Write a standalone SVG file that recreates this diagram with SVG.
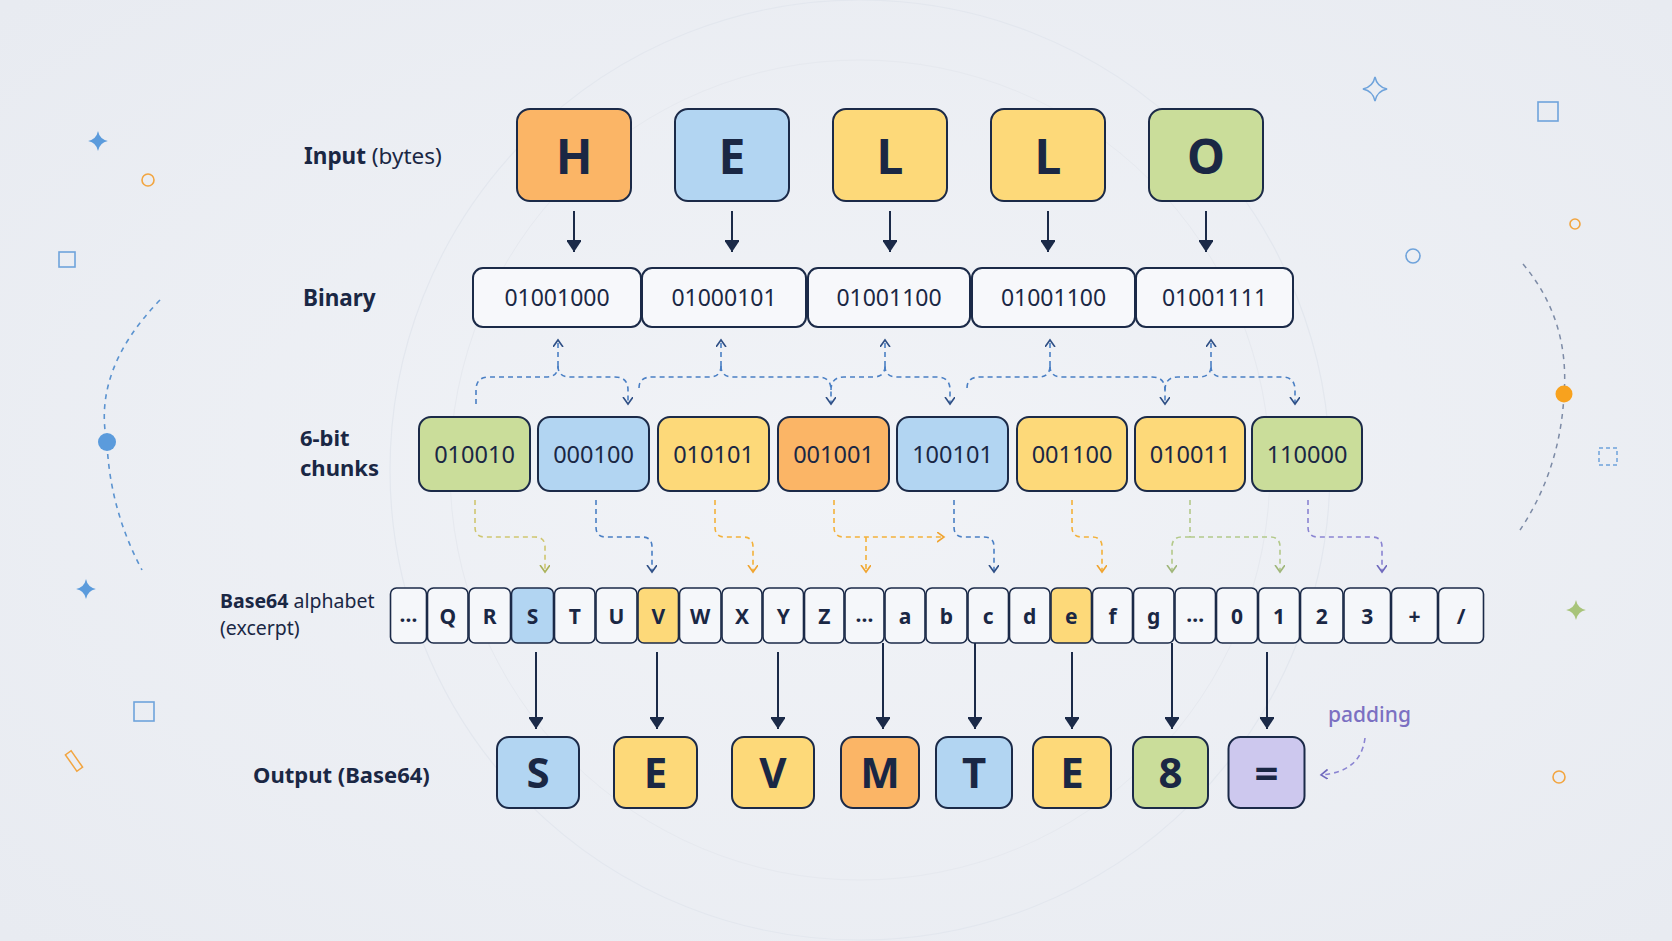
<svg xmlns="http://www.w3.org/2000/svg" width="1672" height="941" viewBox="0 0 1672 941">
<defs>
<radialGradient id="bg" cx="50%" cy="50%" r="70%">
<stop offset="0" stop-color="#f1f3f7"/>
<stop offset="1" stop-color="#e8ebf1"/>
</radialGradient>
<marker id="solid" markerUnits="userSpaceOnUse" markerWidth="20" markerHeight="14" refX="12" refY="7" orient="auto">
<path d="M0,-1 L12,7 L0,15 Z" fill="#1b2a48"/>
</marker>
<marker id="vBlue" markerUnits="userSpaceOnUse" markerWidth="12" markerHeight="12" refX="7" refY="5" orient="auto">
<path d="M0,0 L7,5 L0,10" fill="none" stroke="#2f4f85" stroke-width="1.6"/>
</marker>
<marker id="vOlive" markerUnits="userSpaceOnUse" markerWidth="12" markerHeight="12" refX="7" refY="5" orient="auto">
<path d="M0,0 L7,5 L0,10" fill="none" stroke="#aab25a" stroke-width="1.6"/>
</marker>
<marker id="vOrange" markerUnits="userSpaceOnUse" markerWidth="12" markerHeight="12" refX="7" refY="5" orient="auto">
<path d="M0,0 L7,5 L0,10" fill="none" stroke="#f0a430" stroke-width="1.6"/>
</marker>
<marker id="vGreen" markerUnits="userSpaceOnUse" markerWidth="12" markerHeight="12" refX="7" refY="5" orient="auto">
<path d="M0,0 L7,5 L0,10" fill="none" stroke="#9fb67a" stroke-width="1.6"/>
</marker>
<marker id="vPurple" markerUnits="userSpaceOnUse" markerWidth="12" markerHeight="12" refX="7" refY="5" orient="auto">
<path d="M0,0 L7,5 L0,10" fill="none" stroke="#6f69bd" stroke-width="1.6"/>
</marker>
<path id="star" d="M0,-11 Q1.8,-1.8 11,0 Q1.8,1.8 0,11 Q-1.8,1.8 -11,0 Q-1.8,-1.8 0,-11 Z"/>
</defs>
<style>
text{font-family:"Noto Sans","Liberation Sans",sans-serif;fill:#1a2744}
.box{stroke:#1b2a48;stroke-width:2}
.or{fill:#fbb566}.bl{fill:#b2d5f2}.ye{fill:#fdd979}.gr{fill:#cadd9a}.pu{fill:#cdc8ee}.wh{fill:#f7f8fb}
.big{font-size:48px;font-weight:bold;text-anchor:middle}
.bin{font-size:23px;text-anchor:middle}
.chk{font-size:23.5px;text-anchor:middle}
.cell{stroke:#1b2a48;stroke-width:1.6;fill:#f5f7fa}
.ct{font-size:21px;font-weight:bold;text-anchor:middle}
.out{font-size:42px;font-weight:bold;text-anchor:middle}
.lbl{font-size:22.5px}
.b{font-weight:bold}
.solid{stroke:#1b2a48;stroke-width:2;fill:none;marker-end:url(#solid)}
.dash{fill:none;stroke-width:1.6;stroke-dasharray:5 4}
.dBlue{stroke:#4a7fc4}
.dOlive{stroke:#cfc670}
.dOrange{stroke:#f3b13a}
.dGreen{stroke:#b3c98a}
.dPurple{stroke:#8a84d2}
</style>
<rect x="0" y="0" width="1672" height="941" fill="url(#bg)"/>
<g id="background" fill="none">
<circle cx="860" cy="470" r="470" stroke="#e3e7ee" stroke-width="1.2"/>
<circle cx="860" cy="470" r="410" stroke="#e6e9ef" stroke-width="1"/>
<use href="#star" transform="translate(98,141) scale(0.9)" fill="#5b9bdc"/>
<circle cx="148" cy="180" r="6" stroke="#f2a540" stroke-width="1.6"/>
<rect x="59" y="252" width="16" height="15" stroke="#6fa3db" stroke-width="1.6"/>
<path d="M160,300 Q92,370 107,443 Q110,510 142,570" stroke="#5b93d0" stroke-width="1.6" stroke-dasharray="5 5"/>
<circle cx="107" cy="442" r="9" fill="#5b9bdc"/>
<use href="#star" transform="translate(86,589) scale(0.9)" fill="#5b9bdc"/>
<rect x="134" y="702" width="20" height="19" stroke="#6fa3db" stroke-width="1.6"/>
<rect x="-10" y="-3.5" width="20" height="7" transform="translate(74,761) rotate(55)" stroke="#f2a540" stroke-width="1.5"/>
<use href="#star" transform="translate(1375,89) scale(1.1)" stroke="#6fa3db" stroke-width="1.4"/>
<rect x="1538" y="102" width="20" height="19" stroke="#6fa3db" stroke-width="1.6"/>
<circle cx="1575" cy="224" r="5" stroke="#f2a540" stroke-width="1.6"/>
<circle cx="1413" cy="256" r="7" stroke="#6fa3db" stroke-width="1.6"/>
<path d="M1523,264 Q1570,320 1564,395 Q1560,470 1520,530" stroke="#7d8ba6" stroke-width="1.5" stroke-dasharray="5 5"/>
<circle cx="1564" cy="394" r="8.5" fill="#f8a21e"/>
<rect x="1599" y="448" width="18" height="17" stroke="#6fa3db" stroke-width="1.5" stroke-dasharray="4 3"/>
<use href="#star" transform="translate(1576,610) scale(0.9)" fill="#a8c47a"/>
<circle cx="1559" cy="777" r="6" stroke="#f2a540" stroke-width="1.6"/>
</g>
<g id="labels">
<text class="lbl" x="304" y="164"><tspan class="b">Input</tspan> (bytes)</text>
<text class="lbl b" x="303" y="306" font-size="22">Binary</text>
<text class="b" x="300" font-size="22"><tspan x="300" y="446">6-bit</tspan><tspan x="300" y="476">chunks</tspan></text>
<text x="220" font-size="19.5"><tspan x="220" y="608"><tspan class="b">Base64</tspan> alphabet</tspan><tspan x="220" y="635">(excerpt)</tspan></text>
<text class="b" x="253" y="783" font-size="22">Output (Base64)</text>
<text x="1328" y="722" font-size="21" font-weight="500" style="fill:#7b70c2">padding</text>
</g>
<g id="input">
<g id="in-H"><rect class="box or" x="517" y="109" width="114" height="92" rx="13"/><text class="big" x="574" y="174">H</text></g>
<g id="in-E"><rect class="box bl" x="675" y="109" width="114" height="92" rx="13"/><text class="big" x="732" y="174">E</text></g>
<g id="in-L1"><rect class="box ye" x="833" y="109" width="114" height="92" rx="13"/><text class="big" x="890" y="174">L</text></g>
<g id="in-L2"><rect class="box ye" x="991" y="109" width="114" height="92" rx="13"/><text class="big" x="1048" y="174">L</text></g>
<g id="in-O"><rect class="box gr" x="1149" y="109" width="114" height="92" rx="13"/><text class="big" x="1206" y="174">O</text></g>
</g>
<g id="binary">
<g id="bin-1"><rect class="box wh" x="473" y="268" width="168" height="59" rx="10"/><text class="bin" x="557" y="306">01001000</text></g>
<g id="bin-2"><rect class="box wh" x="642" y="268" width="164" height="59" rx="10"/><text class="bin" x="724" y="306">01000101</text></g>
<g id="bin-3"><rect class="box wh" x="808" y="268" width="162" height="59" rx="10"/><text class="bin" x="889" y="306">01001100</text></g>
<g id="bin-4"><rect class="box wh" x="972" y="268" width="163" height="59" rx="10"/><text class="bin" x="1053.5" y="306">01001100</text></g>
<g id="bin-5"><rect class="box wh" x="1136" y="268" width="157" height="59" rx="10"/><text class="bin" x="1214.5" y="306">01001111</text></g>
</g>
<g id="chunks">
<g id="ch-1"><rect class="box gr" x="419" y="417" width="111" height="74" rx="12"/><text class="chk" x="474.5" y="462.5">010010</text></g>
<g id="ch-2"><rect class="box bl" x="538" y="417" width="111" height="74" rx="12"/><text class="chk" x="593.5" y="462.5">000100</text></g>
<g id="ch-3"><rect class="box ye" x="658" y="417" width="111" height="74" rx="12"/><text class="chk" x="713.5" y="462.5">010101</text></g>
<g id="ch-4"><rect class="box or" x="778" y="417" width="111" height="74" rx="12"/><text class="chk" x="833.5" y="462.5">001001</text></g>
<g id="ch-5"><rect class="box bl" x="897" y="417" width="111" height="74" rx="12"/><text class="chk" x="952.5" y="462.5">100101</text></g>
<g id="ch-6"><rect class="box ye" x="1017" y="417" width="110" height="74" rx="12"/><text class="chk" x="1072" y="462.5">001100</text></g>
<g id="ch-7"><rect class="box ye" x="1135" y="417" width="110" height="74" rx="12"/><text class="chk" x="1190" y="462.5">010011</text></g>
<g id="ch-8"><rect class="box gr" x="1252" y="417" width="110" height="74" rx="12"/><text class="chk" x="1307" y="462.5">110000</text></g>
</g>
<g id="alphabet">
<rect class="cell" x="390.5" y="588" width="36" height="55" rx="6"/><text class="ct" x="408.5" y="622" font-size="16">…</text>
<rect class="cell" x="427.5" y="588" width="40.5" height="55" rx="6"/><text class="ct" x="447.75" y="624">Q</text>
<rect class="cell" x="469" y="588" width="41.5" height="55" rx="6"/><text class="ct" x="489.75" y="624">R</text>
<rect class="cell" x="511.5" y="588" width="42" height="55" rx="6" style="fill:#b2d5f2"/><text class="ct" x="532.5" y="624">S</text>
<rect class="cell" x="554.5" y="588" width="40.5" height="55" rx="6"/><text class="ct" x="574.75" y="624">T</text>
<rect class="cell" x="596" y="588" width="41" height="55" rx="6"/><text class="ct" x="616.5" y="624">U</text>
<rect class="cell" x="638" y="588" width="40.5" height="55" rx="6" style="fill:#fdd979"/><text class="ct" x="658.25" y="624">V</text>
<rect class="cell" x="679.5" y="588" width="41.5" height="55" rx="6"/><text class="ct" x="700.25" y="624">W</text>
<rect class="cell" x="722" y="588" width="40" height="55" rx="6"/><text class="ct" x="742" y="624">X</text>
<rect class="cell" x="763" y="588" width="40.5" height="55" rx="6"/><text class="ct" x="783.25" y="624">Y</text>
<rect class="cell" x="804.5" y="588" width="39.5" height="55" rx="6"/><text class="ct" x="824.25" y="624">Z</text>
<rect class="cell" x="845" y="588" width="39" height="55" rx="6"/><text class="ct" x="864.5" y="622" font-size="16">…</text>
<rect class="cell" x="885" y="588" width="40" height="55" rx="6"/><text class="ct" x="905" y="624">a</text>
<rect class="cell" x="926" y="588" width="41" height="55" rx="6"/><text class="ct" x="946.5" y="624">b</text>
<rect class="cell" x="968" y="588" width="40.5" height="55" rx="6"/><text class="ct" x="988.25" y="624">c</text>
<rect class="cell" x="1009.5" y="588" width="40.5" height="55" rx="6"/><text class="ct" x="1029.75" y="624">d</text>
<rect class="cell" x="1051" y="588" width="40.5" height="55" rx="6" style="fill:#fdd979"/><text class="ct" x="1071.25" y="624">e</text>
<rect class="cell" x="1092.5" y="588" width="40" height="55" rx="6"/><text class="ct" x="1112.5" y="624">f</text>
<rect class="cell" x="1133.5" y="588" width="40.5" height="55" rx="6"/><text class="ct" x="1153.75" y="624">g</text>
<rect class="cell" x="1175" y="588" width="40.5" height="55" rx="6"/><text class="ct" x="1195.25" y="622" font-size="16">…</text>
<rect class="cell" x="1216.5" y="588" width="41" height="55" rx="6"/><text class="ct" x="1237" y="624">0</text>
<rect class="cell" x="1258.5" y="588" width="41" height="55" rx="6"/><text class="ct" x="1279" y="624">1</text>
<rect class="cell" x="1300.5" y="588" width="42.5" height="55" rx="6"/><text class="ct" x="1321.75" y="624">2</text>
<rect class="cell" x="1344" y="588" width="46.5" height="55" rx="6"/><text class="ct" x="1367.25" y="624">3</text>
<rect class="cell" x="1391.5" y="588" width="46" height="55" rx="6"/><text class="ct" x="1414.5" y="624">+</text>
<rect class="cell" x="1438.5" y="588" width="45" height="55" rx="6"/><text class="ct" x="1461" y="624">/</text>
</g>
<g id="output">
<g id="out-S"><rect class="box bl" x="497" y="737" width="82" height="71" rx="12"/><text class="out" x="538" y="788">S</text></g>
<g id="out-E1"><rect class="box ye" x="614" y="737" width="83" height="71" rx="12"/><text class="out" x="655.5" y="788">E</text></g>
<g id="out-V"><rect class="box ye" x="732" y="737" width="82" height="71" rx="12"/><text class="out" x="773" y="788">V</text></g>
<g id="out-M"><rect class="box or" x="841" y="737" width="78" height="71" rx="12"/><text class="out" x="880" y="788">M</text></g>
<g id="out-T"><rect class="box bl" x="936" y="737" width="76" height="71" rx="12"/><text class="out" x="974" y="788">T</text></g>
<g id="out-E2"><rect class="box ye" x="1033" y="737" width="78" height="71" rx="12"/><text class="out" x="1072" y="788">E</text></g>
<g id="out-8"><rect class="box gr" x="1133" y="737" width="75" height="71" rx="12"/><text class="out" x="1170.5" y="788">8</text></g>
<g id="out-pad"><rect class="box pu" x="1228.5" y="737" width="76" height="71" rx="12"/><text class="out" x="1266.5" y="788">=</text></g>
</g>
<g id="connectors">
<path class="solid" d="M574,211 V252"/>
<path class="solid" d="M732,211 V252"/>
<path class="solid" d="M890,211 V252"/>
<path class="solid" d="M1048,211 V252"/>
<path class="solid" d="M1206,211 V252"/>
<g class="dash dBlue">
<path d="M558,366 V340" marker-end="url(#vBlue)"/>
<path d="M476,404 V390 Q476,377 489,377 H546 Q558,377 558,366"/>
<path d="M558,366 Q558,377 570,377 H615 Q628,377 628,390 V404" marker-end="url(#vBlue)"/>
<path d="M721,366 V340" marker-end="url(#vBlue)"/>
<path d="M639,388 Q639,377 652,377 H709 Q721,377 721,366"/>
<path d="M721,366 Q721,377 733,377 H818 Q831,377 831,390 V404" marker-end="url(#vBlue)"/>
<path d="M885,366 V340" marker-end="url(#vBlue)"/>
<path d="M831,390 Q831,377 844,377 H873 Q885,377 885,366"/>
<path d="M885,366 Q885,377 897,377 H937 Q950,377 950,390 V404" marker-end="url(#vBlue)"/>
<path d="M1050,366 V340" marker-end="url(#vBlue)"/>
<path d="M967,388 Q967,377 980,377 H1038 Q1050,377 1050,366"/>
<path d="M1050,366 Q1050,377 1062,377 H1152 Q1165,377 1165,390 V404" marker-end="url(#vBlue)"/>
<path d="M1211,366 V340" marker-end="url(#vBlue)"/>
<path d="M1165,390 Q1165,377 1178,377 H1199 Q1211,377 1211,366"/>
<path d="M1211,366 Q1211,377 1223,377 H1282 Q1295,377 1295,390 V404" marker-end="url(#vBlue)"/>
</g>
<path class="dash dOlive" d="M475,500 V527 Q475,537 485,537 H535 Q545,537 545,547 V572" marker-end="url(#vOlive)"/>
<path class="dash dBlue" d="M596,500 V527 Q596,537 606,537 H642 Q652,537 652,547 V572" marker-end="url(#vBlue)"/>
<path class="dash dOrange" d="M715,500 V527 Q715,537 725,537 H743 Q753,537 753,547 V572" marker-end="url(#vOrange)"/>
<path class="dash dOrange" d="M834,500 V527 Q834,537 844,537 H944" marker-end="url(#vOrange)"/>
<path class="dash dOrange" d="M866,537 V572" marker-end="url(#vOrange)"/>
<path class="dash dBlue" d="M954,500 V527 Q954,537 964,537 H984 Q994,537 994,547 V572" marker-end="url(#vBlue)"/>
<path class="dash dOrange" d="M1072,500 V527 Q1072,537 1082,537 H1092 Q1102,537 1102,547 V572" marker-end="url(#vOrange)"/>
<path class="dash dGreen" d="M1190,500 V537"/>
<path class="dash dGreen" d="M1190,537 H1182 Q1172,537 1172,547 V572" marker-end="url(#vGreen)"/>
<path class="dash dGreen" d="M1190,537 H1270 Q1280,537 1280,547 V572" marker-end="url(#vGreen)"/>
<path class="dash dPurple" d="M1308,500 V527 Q1308,537 1318,537 H1372 Q1382,537 1382,547 V572" marker-end="url(#vPurple)"/>
<path class="solid" d="M536,652 V729"/>
<path class="solid" d="M657,652 V729"/>
<path class="solid" d="M778,652 V729"/>
<path class="solid" d="M883,643 V729"/>
<path class="solid" d="M975,643 V729"/>
<path class="solid" d="M1072,652 V729"/>
<path class="solid" d="M1172,643 V729"/>
<path class="solid" d="M1267,652 V729"/>
<path class="dash dPurple" d="M1365,738 C1362,762 1346,773 1321,775" marker-end="url(#vPurple)"/>
</g>
</svg>
